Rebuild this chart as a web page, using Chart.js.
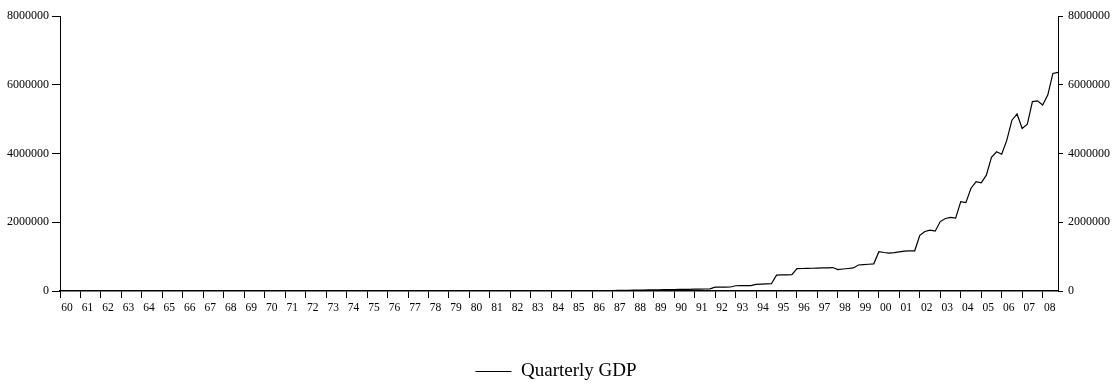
<!DOCTYPE html>
<html>
<head>
<meta charset="utf-8">
<script src="https://cdn.jsdelivr.net/npm/chart.js@4/dist/chart.umd.min.js"></script>
<style>
  html, body { margin: 0; padding: 0; background: #fff; }
  #wrap { width: 1112px; height: 387px; }
</style>
</head>
<body>
<div id="wrap"><canvas id="c" width="1112" height="387"></canvas></div>
<script>
// Year labels for the first quarter of each year, 1960 to 2008
const years = ['60','61','62','63','64','65','66','67','68','69',
               '70','71','72','73','74','75','76','77','78','79',
               '80','81','82','83','84','85','86','87','88','89',
               '90','91','92','93','94','95','96','97','98','99',
               '00','01','02','03','04','05','06','07','08'];

// Quarterly GDP, Q1..Q4 for each year
const gdp1960s = [5,5,6,6, 6,6,7,7, 7,7,8,8, 8,9,9,9, 9,10,10,11,
                  11,11,12,12, 12,13,14,14, 14,15,16,16, 16,17,18,19, 19,20,21,22];
const gdp1970s = [22,24,26,28, 29,31,33,35, 36,39,42,45, 47,51,55,59, 62,68,74,80,
                  86,93,100,107, 114,123,132,141, 150,163,176,190, 205,225,245,265, 290,330,380,440];
const gdp1980s = [600,700,800,900, 1000,1150,1300,1450, 1600,1800,2000,2200, 2500,2800,3100,3400,
                  3900,4500,5100,5700, 6400,7200,8000,8800, 9800,11000,12200,13400,
                  15000,17000,19000,21000, 23000,25500,28000,30500, 33000,35500,38000,40000];
const gdp1990s = [42000,44500,47000,49500, 52000,55000,58000,60000,
                  110000,112000,114000,116000, 153000,154000,155000,157000,
                  190000,200000,205000,212000, 462000,467000,471000,475000,
                  650000,655000,660000,662000, 665000,670000,675000,682000,
                  622000,640000,655000,670000, 756000,768000,778000,790000];
const gdp2000s = [1144000,1120000,1100000,1118000, 1140000,1158000,1168000,1170000,
                  1620000,1730000,1770000,1740000, 2020000,2110000,2140000,2120000,
                  2600000,2570000,2990000,3180000, 3150000,3370000,3890000,4050000,
                  3980000,4390000,4970000,5150000, 4730000,4850000,5510000,5530000,
                  5410000,5700000,6330000,6360000];

// Value-axis ticks (both sides)
const yTicks = [0, 2000000, 4000000, 6000000, 8000000];

const gdp = [].concat(gdp1960s, gdp1970s, gdp1980s, gdp1990s, gdp2000s);
const points = gdp.map((v, i) => ({ x: i, y: v }));

const serif = '"Liberation Serif", "Times New Roman", serif';
const H = 387, plotBottom = 291, legendDrop = 4;

function valueAxis(position, width, tickLen, pad) {
  return {
    type: 'linear',
    position: position,
    min: 0,
    max: 8000000,
    afterBuildTicks: s => { s.ticks = yTicks.map(v => ({ value: v })); },
    afterFit: s => { s.width = width; },
    grid: { display: true, drawOnChartArea: false, drawTicks: true, tickLength: tickLen, color: '#000', lineWidth: 1 },
    border: { display: true, color: '#000', width: 1 },
    ticks: {
      font: { family: serif, size: 12 },
      color: '#000',
      padding: pad,
      callback: v => String(v)
    }
  };
}

new Chart(document.getElementById('c'), {
  type: 'line',
  data: {
    datasets: [{
      label: 'Quarterly GDP',
      data: points,
      borderColor: '#000',
      backgroundColor: '#000',
      borderWidth: 1.2,
      pointRadius: 0,
      tension: 0,
      fill: false
    }]
  },
  options: {
    responsive: false,
    animation: false,
    layout: { padding: { top: 16, left: 0, right: 0, bottom: -legendDrop } },
    plugins: {
      tooltip: { enabled: false },
      legend: {
        display: true,
        position: 'bottom',
        labels: {
          usePointStyle: true,
          pointStyle: 'line',
          pointStyleWidth: 36,
          color: '#000',
          padding: 10,
          font: { family: serif, size: 19 }
        }
      }
    },
    scales: {
      x: {
        type: 'linear',
        min: 0,
        max: gdp.length - 1,
        afterBuildTicks: s => { s.ticks = years.map((_, i) => ({ value: i * 4 })); },
        afterFit: s => {
          const lg = s.chart.legend;
          s.height = H + legendDrop - plotBottom - (lg ? lg.height : 0);
        },
        grid: { display: true, drawOnChartArea: false, drawTicks: true, tickLength: 7, color: '#000', lineWidth: 1 },
        border: { display: true, color: '#000', width: 1.5 },
        ticks: {
          autoSkip: false,
          maxRotation: 0,
          labelOffset: 7,
          padding: 3,
          font: { family: serif, size: 11.5 },
          color: '#000',
          callback: v => years[Math.round(v / 4)]
        }
      },
      y: valueAxis('left', 60, 8, 3),
      y2: valueAxis('right', 54, 5, 5)
    }
  }
});
</script>
</body>
</html>
